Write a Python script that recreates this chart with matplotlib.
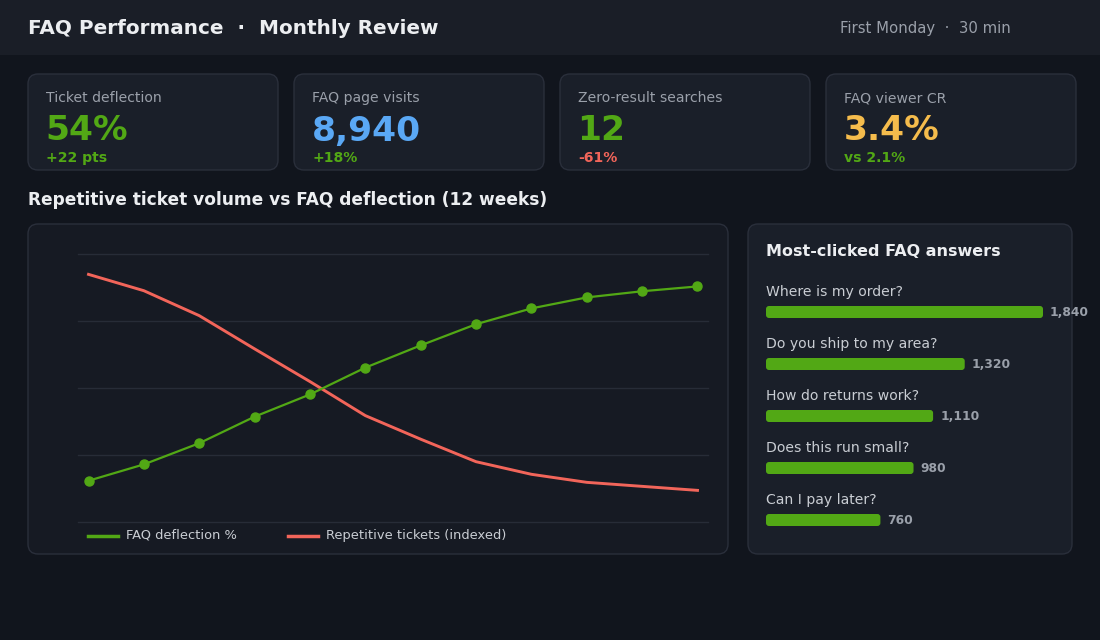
import matplotlib
matplotlib.use("Agg")
import matplotlib.pyplot as plt
from matplotlib.patches import FancyBboxPatch, Rectangle

plt.rcParams['font.family'] = ['DejaVu Sans']

# ---------------- data ----------------
title = "FAQ Performance  ·  Monthly Review"
subtitle = "First Monday  ·  30 min"

kpi_labels = ["Ticket deflection", "FAQ page visits", "Zero-result searches", "FAQ viewer CR"]
kpi_values = ["54%", "8,940", "12", "3.4%"]
kpi_deltas = ["+22 pts", "+18%", "-61%", "vs 2.1%"]

section_title = "Repetitive ticket volume vs FAQ deflection (12 weeks)"
weeks = list(range(1, 13))
deflection = [15.4, 21.5, 29.4, 39.3, 47.6, 57.6, 65.9, 73.8, 79.7, 83.8, 86.1, 87.9]
tickets_idx = [92.4, 86.3, 77.0, 64.6, 52.4, 39.7, 30.9, 22.5, 17.8, 14.8, 13.3, 11.8]
series_names = ["FAQ deflection %", "Repetitive tickets (indexed)"]

bar_title = "Most-clicked FAQ answers"
faq_questions = ["Where is my order?", "Do you ship to my area?", "How do returns work?",
                 "Does this run small?", "Can I pay later?"]
faq_clicks = [1840, 1320, 1110, 980, 760]

# ---------------- style ----------------
BG = "#11151d"
HEADER = "#1a1e27"
CARD = "#1a1f29"
PANEL = "#161a23"
BORDER = "#2a2f3b"
GRID = "#272c37"
GREEN = "#52a815"
BLUE = "#5aa8f5"
YELLOW = "#f5bc4c"
RED = "#f2655a"
TXT = "#eceef1"
MUTED = "#9aa0aa"
LEG = "#c9cdd3"

W, H = 1100, 640
fig = plt.figure(figsize=(W / 100, H / 100), dpi=100)
fig.patch.set_facecolor(BG)

bg = fig.add_axes([0, 0, 1, 1])
bg.set_xlim(0, W)
bg.set_ylim(H, 0)
bg.axis("off")


def px(v):
    return v * 0.72


def card(x, y, w, h, fc, r=10):
    p = FancyBboxPatch((x + r, y + r), w - 2 * r, h - 2 * r,
                       boxstyle=f"round,pad={r}", fc=fc, ec=BORDER, lw=1.0)
    bg.add_patch(p)


# header
bg.add_patch(Rectangle((0, 0), W, 55, fc=HEADER, ec="none"))
bg.text(28, 28, title, color=TXT, fontsize=px(20), fontweight="bold", va="center", ha="left")
bg.text(840, 29, subtitle, color=MUTED, fontsize=px(14.9), va="center", ha="left")

# KPI cards
kpi_colors = [GREEN, BLUE, GREEN, YELLOW]
delta_colors = [GREEN, GREEN, RED, GREEN]
for i in range(4):
    x0 = 28 + i * 266
    card(x0, 74, 250, 96, CARD)
    bg.text(x0 + 18, 98, kpi_labels[i], color=MUTED, fontsize=px(14), va="center")
    bg.text(x0 + 17.5, 131, kpi_values[i], color=kpi_colors[i], fontsize=px(34.5),
            fontweight="bold", va="center")
    bg.text(x0 + 18, 158, kpi_deltas[i], color=delta_colors[i], fontsize=px(14),
            fontweight="bold", va="center")

# section title
bg.text(28, 200, section_title, color=TXT, fontsize=px(17), fontweight="bold", va="center")

# panels
card(28, 224, 700, 330, PANEL)
card(748, 224, 324, 330, CARD)

# ---------------- line chart ----------------
lx0, lx1, ly0, ly1 = 78, 708, 254, 522
ax = fig.add_axes([lx0 / W, 1 - ly1 / H, (lx1 - lx0) / W, (ly1 - ly0) / H])
ax.set_facecolor("none")
ax.set_xlim(0.81, 12.19)
ax.set_ylim(0, 100)
for s in ax.spines.values():
    s.set_visible(False)
ax.set_xticks([])
ax.set_yticks([0, 25, 50, 75, 100])
ax.tick_params(length=0, labelleft=False)
ax.grid(axis="y", color=GRID, lw=1)
for gl in ax.get_ygridlines():
    gl.set_clip_on(False)
ax.set_axisbelow(True)
ax.plot(weeks, tickets_idx, color=RED, lw=2.1, solid_joinstyle="round", zorder=3)
ax.plot(weeks, deflection, color=GREEN, lw=1.6, marker="o", ms=6.5, zorder=4)

# legend
bg.plot([88, 118], [536, 536], color=GREEN, lw=2.5)
bg.text(126, 535, series_names[0], color=LEG, fontsize=px(13), va="center")
bg.plot([288, 318], [536, 536], color=RED, lw=2.5)
bg.text(326, 535, series_names[1], color=LEG, fontsize=px(13), va="center")

# ---------------- bar list ----------------
bg.text(766, 251, bar_title, color=TXT, fontsize=px(16), fontweight="bold", va="center")

scale_px = 277 / 1840.0
bx0, bw_px = 766, 330
bax = fig.add_axes([bx0 / W, 1 - 546 / H, bw_px / W, 260 / H])
bax.set_facecolor("none")
bax.axis("off")
bax.set_xlim(0, bw_px / scale_px)
bax.set_ylim(len(faq_clicks) - 0.5, -0.5)
bars = bax.barh(range(len(faq_clicks)), faq_clicks, height=12 / 52, color=GREEN)
aspect = (1 / 52) / (1 / scale_px)
for b in bars:
    b.set_visible(False)
    x, y = b.get_x(), b.get_y()
    w, h = b.get_width(), b.get_height()
    fp = FancyBboxPatch((x, y), w, h, boxstyle=f"round,pad=0,rounding_size={3 / scale_px}",
                        mutation_aspect=aspect, fc=GREEN, ec="none")
    bax.add_patch(fp)
for i, (q, v) in enumerate(zip(faq_questions, faq_clicks)):
    bax.text(0, i - 20 / 52, q, color=LEG, fontsize=px(14), va="center", ha="left")
    bax.text(v + 7 / scale_px, i, f"{v:,}", color=MUTED, fontsize=px(12.2),
             fontweight="bold", va="center", ha="left")

fig.savefig("out.png", dpi=100, facecolor=BG)
